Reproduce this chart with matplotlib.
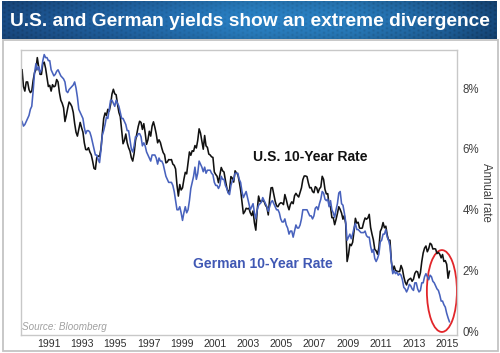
import numpy as np
import matplotlib
matplotlib.use('Agg')
import matplotlib.pyplot as plt
from matplotlib.patches import Ellipse, Rectangle

plt.rcParams['font.family'] = ['Liberation Sans', 'DejaVu Sans']

title = "U.S. and German yields show an extreme divergence"
us_label = "U.S. 10-Year Rate"
de_label = "German 10-Year Rate"
source = "Source: Bloomberg"
y_label = "Annual rate"

start_year, start_month = 1989, 5  # monthly observations

us_10y = [
    8.6, 8.05, 7.9, 8.2, 8.2, 7.95, 7.85, 7.9,
    8.25, 8.5, 8.6, 9.0, 8.7, 8.45, 8.45, 8.8, 8.85, 8.65, 8.35, 8.05,
    8.09, 7.9, 8.11, 8.04, 8.07, 8.28, 8.2, 7.85, 7.6, 7.5, 7.35, 6.9,
    7.1, 7.34, 7.54, 7.48, 7.39, 7.2, 6.84, 6.55, 6.42, 6.65, 6.87, 6.7,
    6.55, 6.2, 5.98, 5.97, 6.04, 5.9, 5.81, 5.6, 5.36, 5.33, 5.72, 5.77,
    5.75, 6.0, 6.5, 7.0, 7.18, 7.1, 7.3, 7.24, 7.46, 7.8, 7.96, 7.81,
    7.78, 7.47, 7.2, 7.06, 6.63, 6.17, 6.28, 6.49, 6.2, 6.04, 5.93, 5.71,
    5.6, 5.85, 6.27, 6.51, 6.74, 6.91, 6.87, 6.64, 6.83, 6.53, 6.15, 6.3,
    6.58, 6.42, 6.75, 6.89, 6.71, 6.49, 6.2, 6.3, 6.21, 6.03, 5.88, 5.81,
    5.54, 5.57, 5.65, 5.64, 5.65, 5.5, 5.46, 5.34, 4.81, 4.45, 4.83, 4.65,
    4.72, 5.0, 5.23, 5.18, 5.54, 5.9, 5.79, 5.94, 5.92, 6.11, 6.03, 6.28,
    6.66, 6.52, 6.26, 5.99, 6.44, 6.1, 6.05, 5.83, 5.8, 5.74, 5.72, 5.24,
    5.16, 5.1, 4.89, 5.14, 5.39, 5.28, 5.24, 4.97, 4.73, 4.57, 4.65, 5.09,
    5.04, 4.91, 5.28, 5.21, 5.16, 4.93, 4.65, 4.26, 3.87, 3.94, 4.05, 4.03,
    4.05, 3.9, 3.81, 3.96, 3.57, 3.33, 3.98, 4.45, 4.27, 4.29, 4.3, 4.27,
    4.15, 4.08, 3.83, 4.35, 4.72, 4.73, 4.5, 4.28, 4.13, 4.1, 4.19, 4.23,
    4.22, 4.17, 4.5, 4.34, 4.14, 4.0, 4.18, 4.26, 4.2, 4.46, 4.54, 4.47,
    4.42, 4.57, 4.72, 4.99, 5.11, 5.11, 5.09, 4.88, 4.72, 4.73, 4.6, 4.56,
    4.76, 4.72, 4.56, 4.69, 4.75, 5.1, 5.0, 4.67, 4.52, 4.53, 4.15, 4.1,
    3.74, 3.74, 3.51, 3.68, 3.88, 4.1, 4.01, 3.89, 3.69, 3.81, 3.53, 2.3,
    2.52, 2.87, 2.82, 2.93, 3.29, 3.72, 3.56, 3.59, 3.4, 3.39, 3.4, 3.59,
    3.73, 3.69, 3.73, 3.85, 3.42, 3.2, 3.01, 2.7, 2.65, 2.54, 2.76, 3.29,
    3.39, 3.58, 3.41, 3.46, 3.17, 3.0, 3.0, 2.3, 1.98, 2.15, 2.01, 1.98,
    1.97, 1.97, 2.17, 2.05, 1.8, 1.62, 1.53, 1.68, 1.72, 1.75, 1.65, 1.72,
    1.91, 1.98, 1.96, 1.76, 1.93, 2.3, 2.58, 2.74, 2.81, 2.62, 2.72, 2.9,
    2.86, 2.71, 2.72, 2.71, 2.56, 2.6, 2.54, 2.42, 2.53, 2.3, 2.33, 2.21,
    1.75, 1.98,
]

de_10y = [
    6.9, 6.75, 6.8, 6.9, 7.0, 7.1, 7.3, 7.4,
    7.9, 8.5, 8.8, 8.6, 8.7, 8.5, 8.6, 8.9, 9.1, 9.0, 9.0, 8.9,
    8.9, 8.6, 8.5, 8.4, 8.45, 8.55, 8.6, 8.5, 8.4, 8.35, 8.3, 8.2,
    7.9, 7.85, 7.95, 8.0, 8.05, 8.1, 8.2, 8.0, 7.7, 7.3, 7.2, 7.1,
    7.0, 6.7, 6.5, 6.6, 6.6, 6.55, 6.4, 6.2, 6.0, 5.8, 5.8, 5.65,
    5.55, 5.95, 6.45, 6.6, 6.8, 7.05, 7.0, 7.3, 7.6, 7.6, 7.5, 7.4,
    7.6, 7.5, 7.4, 7.2, 7.0, 7.0, 6.9, 6.8, 6.6, 6.6, 6.3, 6.0,
    5.9, 6.1, 6.4, 6.4, 6.5, 6.5, 6.4, 6.1, 6.2, 6.1, 5.9, 5.8,
    5.7, 5.6, 5.8, 5.8, 5.8, 5.7, 5.5, 5.7, 5.6, 5.6, 5.5, 5.3,
    5.1, 5.0, 4.9, 4.9, 4.9, 4.8, 4.6, 4.3, 4.0, 4.0, 4.1, 3.9,
    3.65, 3.9, 4.1, 3.9, 4.0, 4.3, 4.7, 4.9, 5.1, 5.4, 5.0, 5.2,
    5.6, 5.5, 5.4, 5.25, 5.4, 5.2, 5.3, 5.3, 5.3, 5.2, 5.15, 4.9,
    4.8, 4.8, 4.7, 4.8, 5.1, 5.0, 5.0, 4.8, 4.7, 4.55, 4.5, 4.8,
    4.95, 5.0, 5.2, 5.2, 5.2, 5.0, 4.9, 4.6, 4.4, 4.5, 4.6, 4.4,
    4.2, 4.0, 4.1, 4.2, 3.9, 3.7, 4.0, 4.15, 4.2, 4.25, 4.4, 4.3,
    4.2, 4.1, 3.95, 4.1, 4.25, 4.3, 4.2, 4.1, 4.0, 4.0, 3.9, 3.7,
    3.6, 3.6, 3.7, 3.5, 3.4, 3.2, 3.3, 3.3, 3.1, 3.3, 3.5, 3.4,
    3.4, 3.5, 3.7, 4.0, 4.0, 4.0, 4.0, 3.9, 3.8, 3.8, 3.7, 3.8,
    4.05, 4.1, 4.0, 4.2, 4.35, 4.6, 4.55, 4.35, 4.3, 4.35, 4.1, 4.3,
    4.0, 3.9, 3.75, 4.0, 4.2, 4.55, 4.6, 4.2, 4.15, 3.9, 3.6, 3.0,
    3.1, 3.2, 3.05, 3.2, 3.4, 3.55, 3.35, 3.35, 3.3, 3.25, 3.25, 3.25,
    3.3, 3.15, 3.1, 3.1, 2.8, 2.6, 2.7, 2.4, 2.3, 2.4, 2.55, 2.95,
    3.0, 3.2, 3.2, 3.35, 3.1, 3.0, 2.8, 2.3, 1.9, 2.0, 1.9, 1.95,
    1.85, 1.9, 1.85, 1.7, 1.45, 1.4, 1.3, 1.4, 1.55, 1.5, 1.4, 1.35,
    1.6, 1.6, 1.4, 1.3, 1.35, 1.6, 1.6, 1.8, 1.9, 1.8, 1.7, 1.85,
    1.8, 1.65, 1.6, 1.5, 1.4, 1.35, 1.2, 1.0, 1.0, 0.88, 0.8, 0.6,
    0.45, 0.32,
]

year_ticks = list(range(1991, 2016, 2))
pct_ticks = [0, 2, 4, 6, 8]

n = len(us_10y)
t = start_year + (start_month - 0.5) / 12 + np.arange(n) / 12

W, H = 500, 353
fig = plt.figure(figsize=(W / 100, H / 100), dpi=100)
fig.patch.set_facecolor('white')


def fx(px):
    return px / W


def fy(py):
    return 1 - py / H


# ---- title banner (gradient with perforated texture) ----
bx0, bx1, by0, by1 = 2, 497, 1, 39
bw, bh = (bx1 - bx0) * 2, (by1 - by0) * 2
bax = fig.add_axes([fx(bx0), fy(by1), fx(bx1) - fx(bx0), fy(by0) - fy(by1)])
bax.set_axis_off()
stops = np.array([0.0, 0.25, 0.5, 0.7, 0.9, 1.0])
cols = np.array([
    [0x1a, 0x4c, 0x86],
    [0x21, 0x66, 0xa8],
    [0x2a, 0x82, 0xc6],
    [0x29, 0x7e, 0xc0],
    [0x1f, 0x62, 0x9e],
    [0x16, 0x48, 0x7c],
]) / 255.0
u = np.linspace(0, 1, bw)
grad = np.stack([np.interp(u, stops, cols[:, k]) for k in range(3)], axis=-1)
img = np.repeat(grad[None, :, :], bh, axis=0)
vv = np.linspace(-1, 1, bh)[:, None, None]
img = img * (1.0 - 0.12 * vv ** 2)
yy, xx = np.mgrid[0:bh, 0:bw]
sp = 9.0
dx = (xx % sp) - sp / 2
dy = ((yy + (np.floor(xx / sp) % 2) * sp / 2) % sp) - sp / 2
dots = np.exp(-(dx ** 2 + dy ** 2) / 5.0)
strength = 0.10 + 0.25 * np.abs(u - 0.45)[None, :]
img = img * (1 - strength[..., None] * dots[..., None])
bax.imshow(np.clip(img, 0, 1), aspect='auto', interpolation='bilinear')
fig.text(fx(250), fy(21), title, ha='center', va='center', color='white',
         fontsize=13.8, fontweight='bold')

# ---- outer frame ----
fig.patches.append(Rectangle((fx(2.5), fy(351)), fx(497.5) - fx(2.5), fy(40) - fy(351),
                             transform=fig.transFigure, fill=False,
                             ec='#c4c4c4', lw=1.3))

# ---- main axes ----
ax = fig.add_axes([fx(21), fy(335), fx(457) - fx(21), fy(50) - fy(335)])
ax.plot(t, us_10y, color='#111111', lw=1.15)
ax.plot(t, de_10y, color='#4862bd', lw=1.15)

ax.set_xlim(1989.31, 2015.58)
ax.set_ylim(-0.115, 9.25)
for s in ax.spines.values():
    s.set_color('#c8c8c8')
    s.set_linewidth(1.0)

ax.yaxis.tick_right()
ax.yaxis.set_label_position('right')
ax.set_yticks(pct_ticks)
ax.set_yticklabels([f"{v}%" for v in pct_ticks], fontsize=8.3, color='#404040')
ax.set_xticks(year_ticks)
ax.set_xticklabels([str(y) for y in year_ticks], fontsize=7.6, color='#303030')
ax.tick_params(axis='both', length=0)
ax.tick_params(axis='y', pad=4)
ax.tick_params(axis='x', pad=3)
ax.set_ylabel(y_label, rotation=270, fontsize=8.3, color='#404040', labelpad=9)

ax.text(2003.29, 5.73, us_label, ha='left', va='center', fontsize=10,
        fontweight='bold', color='#111111')
ax.text(1999.67, 2.22, de_label, ha='left', va='center', fontsize=10,
        fontweight='bold', color='#4058b4')
ax.text(1989.37, 0.15, source, ha='left', va='center', fontsize=7.1,
        style='italic', color='#a0a0a0')

ax.add_patch(Ellipse((2014.67, 1.33), 1.81, 2.69, fill=False, ec='#e2262a', lw=1.3))

fig.savefig('out.png', dpi=100, facecolor='white')
